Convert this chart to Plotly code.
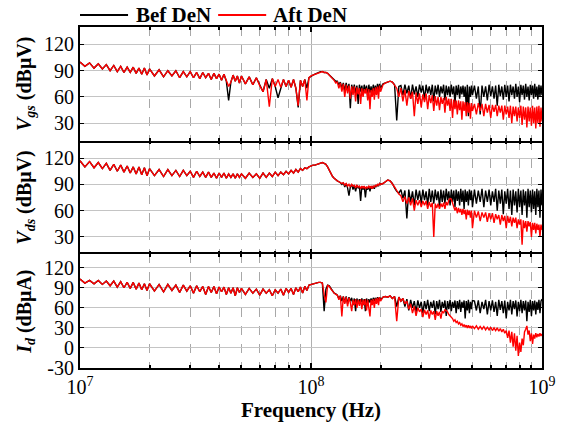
import plotly.graph_objects as go
from plotly.subplots import make_subplots

# Frequency grid (MHz)
freq_mhz = [
    10, 10.5, 11, 11.5, 12, 12.5, 13, 13.5, 14, 14.5, 15, 15.5, 16, 16.5, 17, 17.5, 18, 18.5, 19, 19.5, 20,
    21, 22, 23, 24, 25, 26, 27, 28, 29, 30, 31, 32, 33, 34, 35, 36, 37, 38, 39, 40, 41, 42, 43, 44, 45, 46, 47, 48, 49, 50,
    52, 54, 56, 58, 60, 62, 64, 66, 68, 70, 72, 74, 76, 78, 80, 82, 84, 86, 88, 90, 92, 94, 96, 98, 100,
    102, 104, 106, 108, 110, 112, 114, 116, 118, 120, 122, 124, 126, 128, 130, 132, 134, 136, 138, 140,
    142, 144, 146, 148, 150, 152, 154, 156, 158, 160, 162, 164, 166, 168, 170, 172, 174, 176, 178, 180,
    182, 184, 186, 188, 190, 192, 194, 196, 198, 200,
    205, 210, 215, 220, 225, 230, 235, 240, 245, 250, 255, 260, 265, 270, 275, 280, 285, 290, 295, 300,
    305, 310, 315, 320, 325, 330, 335, 340, 345, 350, 355, 360, 365, 370, 375, 380, 385, 390, 395, 400,
    405, 410, 415, 420, 425, 430, 435, 440, 445, 450, 455, 460, 465, 470, 475, 480, 485, 490, 495, 500,
    510, 520, 530, 540, 550, 560, 570, 580, 590, 600, 610, 620, 630, 640, 650, 660, 670, 680, 690, 700,
    710, 720, 730, 740, 750, 760, 770, 780, 790, 800, 810, 820, 830, 840, 850, 860, 870, 880, 890, 900,
    910, 920, 930, 940, 950, 960, 970, 980, 990, 1000,
]

# Vgs (dBuV)
bef_vgs = [
    100, 95, 99, 93, 98, 92, 97, 90, 96, 89, 95, 88, 94, 88, 94, 87, 93, 86, 93, 85, 92,
    84, 91, 83, 90, 84, 90, 82, 89, 83, 89, 82, 88, 81, 88, 82, 87, 80, 87, 81, 86, 79, 86, 78, 56, 77, 85, 78, 84, 76, 84,
    75, 83, 74, 82, 73, 66, 80, 70, 81, 72, 59, 71, 80, 72, 79, 71, 80, 70, 48, 79, 72, 80, 70, 82, 84,
    85, 86, 87, 88, 89, 89, 88, 88, 87, 85, 83, 81, 80, 78, 78, 74, 77, 70, 76, 67,
    76, 68, 75, 47, 74, 66, 74, 64, 73, 52, 74, 66, 73, 62, 74, 66, 73, 60, 74, 65,
    72, 63, 74, 66, 73, 64, 75, 67, 75, 70,
    75, 76, 77, 78, 77, 74, 33, 72, 73, 62, 74, 64, 73, 58, 74, 63, 72, 60, 74, 65,
    73, 57, 74, 64, 72, 62, 74, 55, 73, 63, 74, 60, 72, 64, 74, 56, 73, 62, 72, 60,
    74, 63, 72, 52, 73, 62, 74, 58, 72, 63, 73, 60, 72, 48, 74, 38, 72, 60, 73, 62,
    73, 58, 72, 40, 73, 60, 72, 56, 74, 61, 72, 58, 73, 50, 74, 61, 72, 57, 74, 60,
    73, 55, 74, 62, 72, 58, 75, 60, 72, 54, 74, 62, 73, 57, 75, 60, 72, 56, 74, 62,
    73, 58, 75, 60, 72, 57, 74, 61, 73, 62,
]
aft_vgs = [
    100, 95, 99, 93, 98, 92, 97, 90, 96, 89, 95, 88, 94, 88, 94, 87, 93, 86, 93, 85, 92,
    84, 91, 83, 90, 84, 90, 82, 89, 83, 89, 82, 88, 81, 88, 82, 87, 80, 87, 81, 86, 79, 86, 78, 72, 77, 85, 78, 84, 76, 84,
    75, 83, 74, 82, 73, 66, 80, 49, 81, 72, 80, 71, 80, 72, 79, 71, 80, 70, 50, 79, 72, 80, 56, 82, 84,
    85, 86, 87, 88, 89, 89, 88, 88, 87, 85, 83, 80, 79, 76, 77, 70, 76, 66, 75, 60,
    74, 64, 73, 58, 72, 62, 72, 55, 71, 63, 70, 52, 70, 60, 69, 64, 70, 56, 69, 46,
    68, 60, 70, 57, 71, 62, 72, 58, 73, 66,
    74, 76, 77, 78, 77, 74, 70, 60, 70, 55, 68, 50, 67, 58, 66, 38, 65, 52, 64, 48,
    63, 54, 64, 46, 62, 53, 62, 44, 61, 50, 60, 45, 60, 52, 59, 42, 60, 50, 58, 44,
    58, 36, 57, 46, 56, 40, 56, 45, 55, 34, 55, 44, 54, 38, 54, 42, 53, 35, 53, 44,
    52, 40, 53, 44, 52, 38, 52, 42, 51, 36, 51, 43, 51, 38, 50, 42, 50, 34, 50, 40,
    49, 36, 50, 30, 49, 38, 49, 32, 48, 36, 50, 28, 49, 34, 48, 25, 49, 32, 48, 27,
    50, 30, 48, 24, 49, 30, 50, 26, 48, 32,
]

# Vds (dBuV)
bef_vds = [
    117, 110, 116, 109, 115, 108, 114, 106, 113, 105, 112, 104, 111, 103, 110, 102, 110, 101, 109, 100, 108,
    100, 107, 99, 107, 100, 106, 99, 106, 100, 105, 98, 105, 99, 104, 98, 104, 98, 103, 97, 103, 98, 103, 97, 102, 98, 102, 97, 102, 98, 102,
    97, 103, 98, 102, 97, 103, 98, 103, 99, 104, 100, 104, 101, 105, 102, 106, 103, 107, 104, 108, 106, 109, 108, 110, 111,
    112, 112, 113, 114, 115, 115, 114, 113, 110, 106, 102, 99, 97, 95, 94, 93, 92, 90, 92, 87,
    91, 86, 77, 87, 90, 84, 89, 82, 89, 86, 88, 71, 88, 84, 88, 75, 87, 84, 88, 82,
    88, 85, 88, 85, 89, 87, 90, 88, 91, 90,
    91, 93, 95, 94, 91, 86, 82, 80, 84, 74, 83, 51, 84, 70, 82, 66, 84, 72, 83, 68,
    84, 72, 82, 66, 85, 70, 83, 68, 84, 72, 82, 64, 84, 70, 83, 68, 85, 72, 82, 66,
    84, 70, 83, 64, 84, 71, 82, 66, 85, 70, 83, 62, 84, 70, 82, 66, 84, 72, 83, 64,
    84, 68, 83, 70, 85, 64, 83, 70, 84, 66, 82, 70, 85, 60, 83, 68, 84, 56, 82, 68,
    85, 62, 83, 55, 84, 66, 82, 58, 85, 64, 83, 55, 84, 66, 82, 52, 85, 64, 83, 58,
    84, 62, 82, 55, 85, 64, 83, 52, 84, 66,
]
aft_vds = [
    117, 110, 116, 109, 115, 108, 114, 106, 113, 105, 112, 104, 111, 103, 110, 102, 110, 101, 109, 100, 108,
    100, 107, 99, 107, 100, 106, 99, 106, 100, 105, 98, 105, 99, 104, 98, 104, 98, 103, 97, 103, 98, 103, 97, 102, 98, 102, 97, 102, 98, 102,
    97, 103, 98, 102, 97, 103, 98, 103, 99, 104, 100, 104, 101, 105, 102, 106, 103, 107, 104, 108, 106, 109, 108, 110, 111,
    112, 112, 113, 114, 115, 115, 114, 113, 110, 106, 102, 99, 97, 95, 94, 93, 92, 91, 92, 89,
    91, 88, 90, 87, 90, 88, 89, 86, 89, 87, 88, 85, 88, 86, 88, 85, 87, 86, 88, 86,
    88, 85, 88, 87, 89, 88, 90, 89, 91, 90,
    91, 93, 95, 94, 91, 87, 83, 79, 77, 70, 76, 68, 75, 66, 74, 60, 72, 66, 72, 64,
    71, 66, 71, 62, 70, 64, 69, 30, 68, 63, 68, 62, 68, 64, 69, 62, 70, 66, 72, 74,
    73, 68, 66, 60, 64, 57, 63, 58, 62, 55, 62, 56, 61, 50, 61, 55, 60, 52, 60, 40,
    60, 52, 59, 48, 58, 52, 58, 47, 57, 50, 57, 46, 56, 50, 55, 44, 55, 48, 54, 40,
    54, 46, 53, 42, 52, 46, 52, 40, 50, 44, 50, 21, 49, 40, 48, 36, 48, 42, 47, 30,
    46, 38, 46, 34, 45, 38, 44, 30, 44, 38,
]

# Id (dBuA)
bef_id = [
    103, 97, 101, 96, 101, 95, 100, 93, 100, 91, 99, 90, 98, 89, 98, 88, 97, 87, 96, 86, 96,
    85, 95, 84, 95, 86, 94, 83, 94, 85, 93, 82, 93, 84, 92, 80, 92, 83, 92, 81, 91, 84, 91, 80, 90, 82, 90, 78, 90, 83, 89,
    80, 89, 82, 88, 79, 88, 82, 87, 78, 87, 82, 88, 79, 89, 83, 89, 80, 90, 84, 91, 82, 92, 86, 94, 95,
    96, 96, 97, 98, 98, 97, 55, 88, 94, 93, 89, 85, 82, 81, 79, 74, 78, 70, 77, 68,
    77, 66, 76, 70, 75, 64, 74, 55, 74, 66, 73, 68, 74, 64, 73, 55, 74, 66, 73, 68,
    74, 66, 75, 70, 75, 68, 76, 70, 76, 72,
    76, 77, 76, 78, 74, 77, 62, 76, 70, 74, 62, 73, 56, 72, 60, 70, 54, 71, 60, 69,
    52, 70, 58, 72, 55, 69, 60, 71, 50, 70, 58, 72, 54, 69, 60, 71, 48, 70, 58, 72,
    55, 69, 60, 71, 52, 70, 58, 72, 54, 69, 60, 71, 44, 70, 56, 72, 52, 69, 58, 71,
    70, 56, 71, 52, 69, 58, 72, 50, 70, 56, 71, 54, 69, 48, 72, 57, 70, 52, 71, 44,
    69, 56, 72, 50, 70, 58, 71, 47, 69, 55, 72, 52, 70, 56, 71, 40, 69, 54, 72, 48,
    70, 56, 71, 50, 69, 57, 72, 52, 70, 73,
]
aft_id = [
    103, 97, 101, 96, 101, 95, 100, 93, 100, 91, 99, 90, 98, 89, 98, 88, 97, 87, 96, 86, 96,
    85, 95, 84, 95, 86, 94, 83, 94, 85, 93, 82, 93, 84, 92, 80, 92, 83, 92, 81, 91, 84, 91, 80, 90, 82, 90, 78, 90, 83, 89,
    80, 89, 82, 88, 79, 88, 82, 87, 78, 87, 82, 88, 79, 89, 83, 89, 80, 90, 84, 91, 82, 92, 86, 94, 95,
    96, 96, 97, 98, 98, 97, 80, 68, 94, 92, 88, 84, 82, 80, 79, 72, 78, 47, 77, 66,
    76, 62, 75, 68, 55, 72, 64, 73, 60, 72, 63, 73, 58, 72, 64, 73, 56, 72, 62, 47,
    72, 64, 73, 60, 74, 66, 75, 64, 76, 70,
    76, 77, 76, 78, 74, 77, 40, 76, 70, 74, 66, 70, 58, 66, 52, 62, 48, 60, 54, 58,
    46, 57, 50, 56, 44, 56, 50, 55, 42, 55, 48, 54, 44, 55, 52, 57, 56, 54, 50, 48,
    46, 44, 40, 42, 38, 40, 36, 38, 34, 36, 32, 35, 31, 34, 30, 34, 30, 33, 29, 33,
    29, 33, 28, 32, 28, 32, 27, 31, 27, 31, 26, 30, 26, 30, 25, 29, 24, 28, 22, 26,
    15, 26, 8, 24, 2, 22, -4, 18, -12, 8, -6, 14, 4, 24, 28, 33, 20, 26, 10, 22,
    6, 20, 14, 22, 16, 21, 17, 22, 18, 21,
]

legend_names = ["Bef DeN", "Aft DeN"]
legend_colors = ["#000000", "#ff0000"]
y_titles = [
    "<b><i>V</i><sub><i>gs</i></sub> (dBμV)</b>",
    "<b><i>V</i><sub><i>ds</i></sub> (dBμV)</b>",
    "<b><i>I</i><sub><i>d</i></sub> (dBμA)</b>",
]
y_ranges = [[10, 140], [10, 140], [-30, 140]]
y_ticks = [[30, 60, 90, 120], [30, 60, 90, 120], [-30, 0, 30, 60, 90, 120]]
y_ticktext = [["30", "60", "90", "120"], ["30", "60", "90", "120"], ["-30", "0", "30", "60", "90", "120"]]
x_ticks = [1e7, 1e8, 1e9]
x_ticktext = ["10<sup>7</sup>", "10<sup>8</sup>", "10<sup>9</sup>"]
x_minor = [m * 10 ** e for e in (7, 8) for m in range(2, 10)]

freq_hz = [f * 1e6 for f in freq_mhz]
series = [(bef_vgs, aft_vgs), (bef_vds, aft_vds), (bef_id, aft_id)]
for b, a in series:
    assert len(b) == len(freq_hz) and len(a) == len(freq_hz), (len(b), len(a), len(freq_hz))

FONT = "Times New Roman, Liberation Serif, serif"
fig = make_subplots(rows=3, cols=1, shared_xaxes=True, vertical_spacing=0)

for i, pair in enumerate(series, start=1):
    for vals, name, color in zip(pair, legend_names, legend_colors):
        fig.add_trace(go.Scatter(x=freq_hz, y=vals, mode="lines", name=name,
                                 line=dict(color=color, width=1.4),
                                 legendgroup=name, showlegend=False), row=i, col=1)
    fig.update_yaxes(row=i, col=1, range=y_ranges[i - 1], tickmode="array",
                     tickvals=y_ticks[i - 1], ticktext=y_ticktext[i - 1],
                     title=dict(text=y_titles[i - 1], font=dict(family=FONT, size=20, color="black"), standoff=7),
                     tickfont=dict(family=FONT, size=20, color="black"),
                     showgrid=True, gridcolor="#c4c4c4", gridwidth=1, zeroline=False,
                     showline=True, linecolor="black", linewidth=2, mirror="ticks",
                     ticks="inside", ticklen=4, tickwidth=1, tickcolor="black")

fig.update_xaxes(type="log", range=[7, 9], tickmode="array", tickvals=x_ticks, ticktext=x_ticktext,
                 tickfont=dict(family=FONT, size=20, color="black"),
                 showgrid=True, gridcolor="#b0b0b0", gridwidth=1, zeroline=False,
                 showline=True, linecolor="black", linewidth=2, mirror="ticks",
                 ticks="inside", ticklen=5, tickwidth=2, tickcolor="black",
                 minor=dict(tickmode="array", tickvals=x_minor, showgrid=True, gridcolor="#a8a8a8",
                            griddash="dash", gridwidth=1, ticks="inside", ticklen=3, tickcolor="black"))
# middle panel: its borders are drawn by the neighbours, keep only its ticks
fig.update_xaxes(row=2, col=1, showline=False)
fig.update_xaxes(row=3, col=1, title=dict(text="<b>Frequency (Hz)</b>",
                                          font=dict(family=FONT, size=21, color="black"), standoff=1))

# legend drawn above the top panel
leg_y = 1.035
leg_line = [(0.0, 0.104), (0.299, 0.403)]
leg_text_x = [0.117, 0.413]
for (x0, x1), tx, name, color in zip(leg_line, leg_text_x, legend_names, legend_colors):
    fig.add_shape(type="line", xref="paper", yref="paper", x0=x0, x1=x1, y0=leg_y, y1=leg_y,
                  line=dict(color=color, width=2))
    fig.add_annotation(xref="paper", yref="paper", x=tx, y=leg_y, xanchor="left", yanchor="middle",
                       text="<b>%s</b>" % name, showarrow=False,
                       font=dict(family=FONT, size=21, color="black"))

fig.update_layout(
    width=567, height=423,
    margin=dict(l=80, r=25, t=27, b=55, autoexpand=False),
    paper_bgcolor="white", plot_bgcolor="white",
    font=dict(family=FONT, color="black"),
    showlegend=False,
)

fig.write_html("out.html")
